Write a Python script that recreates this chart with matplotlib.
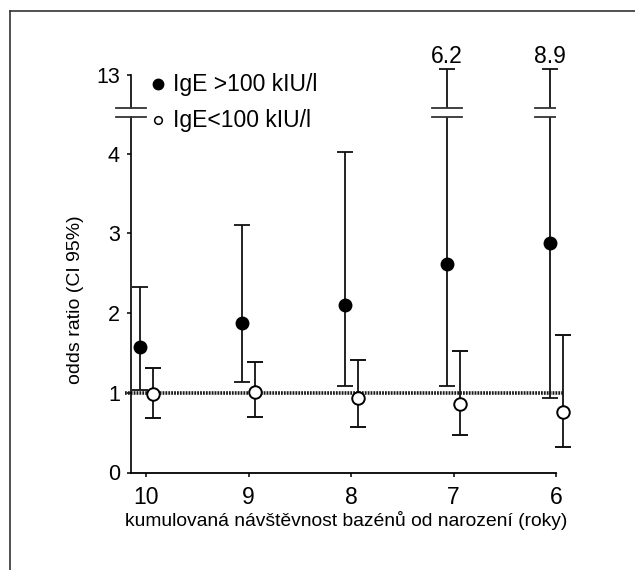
import matplotlib
matplotlib.use("Agg")
import matplotlib.pyplot as plt
from matplotlib.lines import Line2D
from matplotlib.patches import Rectangle

plt.rcParams['font.family'] = ['Liberation Sans', 'DejaVu Sans']

# ---- data ----
categories = ['10', '9', '8', '7', '6']
high_or = [1.58, 1.87, 2.10, 2.61, 2.88]
high_lo = [1.03, 1.13, 1.08, 1.09, 0.94]
high_hi = [2.33, 3.11, 4.02, 6.2, 8.9]
low_or = [0.985, 1.01, 0.93, 0.86, 0.755]
low_lo = [0.69, 0.70, 0.575, 0.47, 0.32]
low_hi = [1.315, 1.39, 1.41, 1.53, 1.72]
ref_value = 1.0
ytick_vals = [0, 1, 2, 3, 4]
top_tick_label = '13'
series_labels = ['IgE >100 kIU/l', 'IgE<100 kIU/l']

# ---- axis break geometry (plot units) ----
LIN_MAX = 4.5
BREAK_LO, BREAK_HI = 4.455, 4.57
TOP_TICK_POS = 4.99
CAP_POS = 5.06


def yt(v):
    return v if v <= LIN_MAX else CAP_POS


W, H = 635, 570
fig = plt.figure(figsize=(W / 100, H / 100), dpi=100)
px_x0, px_y0 = 131, 472.5
unit_x, unit_y = 102.5, 79.7
xlim = (-15 / unit_x, 4.0)
ylim = (0, 5.4)
ax = fig.add_axes([px_x0 / W, (H - px_y0) / H,
                   (xlim[1] - xlim[0]) * unit_x / W, (ylim[1] - ylim[0]) * unit_y / H])
ax.set_xlim(*xlim)
ax.set_ylim(*ylim)

for s in ['top', 'right', 'left']:
    ax.spines[s].set_visible(False)
ax.spines['bottom'].set_linewidth(1.3)

lw = 1.2
# left spine with break
ax.plot([xlim[0], xlim[0]], [0, BREAK_LO], color='black', lw=lw, clip_on=False, zorder=5)
ax.plot([xlim[0], xlim[0]], [BREAK_HI, TOP_TICK_POS], color='black', lw=lw, clip_on=False, zorder=5)
hw = 15 / unit_x
for yb in (BREAK_LO, BREAK_HI):
    ax.plot([xlim[0] - hw, xlim[0] + hw], [yb, yb], color='#333333', lw=1.3, clip_on=False, zorder=5)

ax.set_yticks(ytick_vals + [TOP_TICK_POS])
ax.set_yticklabels([str(v) for v in ytick_vals] + [top_tick_label], fontsize=15.5)
ax.set_xticks(range(len(categories)))
ax.set_xticklabels(categories, fontsize=16.5)
ax.tick_params(axis='y', direction='out', length=3, width=1.1, pad=5)
ax.tick_params(axis='x', direction='out', length=3, width=1.1, pad=7)

# reference line
ax.plot([xlim[0] - 6 / unit_x, 4.0 + 7 / unit_x], [ref_value, ref_value], color='#1a1a1a',
        lw=2.6, linestyle=(0, (0.5, 0.3)), clip_on=False, zorder=2)

off = 6.5 / unit_x
xs = list(range(len(categories)))
xh = [x - off for x in xs]
xl = [x + off for x in xs]

hi_plot = [yt(v) for v in high_hi]
ax.errorbar(xh, high_or, yerr=[[o - l for o, l in zip(high_or, high_lo)],
                               [h - o for h, o in zip(hi_plot, high_or)]],
            fmt='o', color='black', ms=9, mfc='black', mec='black',
            ecolor='#111111', elinewidth=1.3, capsize=5.5, capthick=1.3, zorder=4, clip_on=False)
ax.errorbar(xl, low_or, yerr=[[o - l for o, l in zip(low_or, low_lo)],
                              [h - o for h, o in zip(low_hi, low_or)]],
            fmt='o', color='black', ms=9, mfc='white', mec='black', mew=1.4,
            ecolor='#111111', elinewidth=1.3, capsize=5.5, capthick=1.3, zorder=4, clip_on=False)

# breaks on truncated error bars + value labels
for x, v in zip(xh, high_hi):
    if v > LIN_MAX:
        ax.add_patch(Rectangle((x - 0.05, BREAK_LO), 0.1, BREAK_HI - BREAK_LO,
                               facecolor='white', edgecolor='none', zorder=6))
        for yb in (BREAK_LO, BREAK_HI):
            ax.plot([x - hw, x + hw], [yb, yb], color='#333333', lw=1.3, zorder=7)
        ax.text(x, 5.22, f'{v:g}', ha='center', va='center', fontsize=16.5)

# legend (manual)
leg_x = 12 / unit_x
ax.plot([leg_x], [4.874], 'o', ms=7.5, color='black', clip_on=False, zorder=8)
ax.plot([leg_x], [4.42], 'o', ms=5.5, mfc='white', mec='black', mew=1.1, clip_on=False, zorder=8)
ax.text(27 / unit_x, 4.874, series_labels[0], ha='left', va='center', fontsize=16.5)
ax.text(27 / unit_x, 4.42, series_labels[1], ha='left', va='center', fontsize=16.5)

# axis labels
fig.text(346 / W, 1 - 521 / H, 'kumulovaná návštěvnost bazénů od narození (roky)',
         ha='center', va='center', fontsize=13.9)
fig.text(75 / W, 1 - 300 / H, 'odds ratio (CI 95%)', ha='center', va='center',
         rotation=90, fontsize=14)

# outer frame (left and top)
fig.add_artist(Line2D([10 / W, 10 / W], [0, 1 - 11 / H], color='#333333', lw=1.2))
fig.add_artist(Line2D([10 / W, 1], [1 - 11 / H, 1 - 11 / H], color='#333333', lw=1.2))

fig.savefig('out.png', dpi=100)
